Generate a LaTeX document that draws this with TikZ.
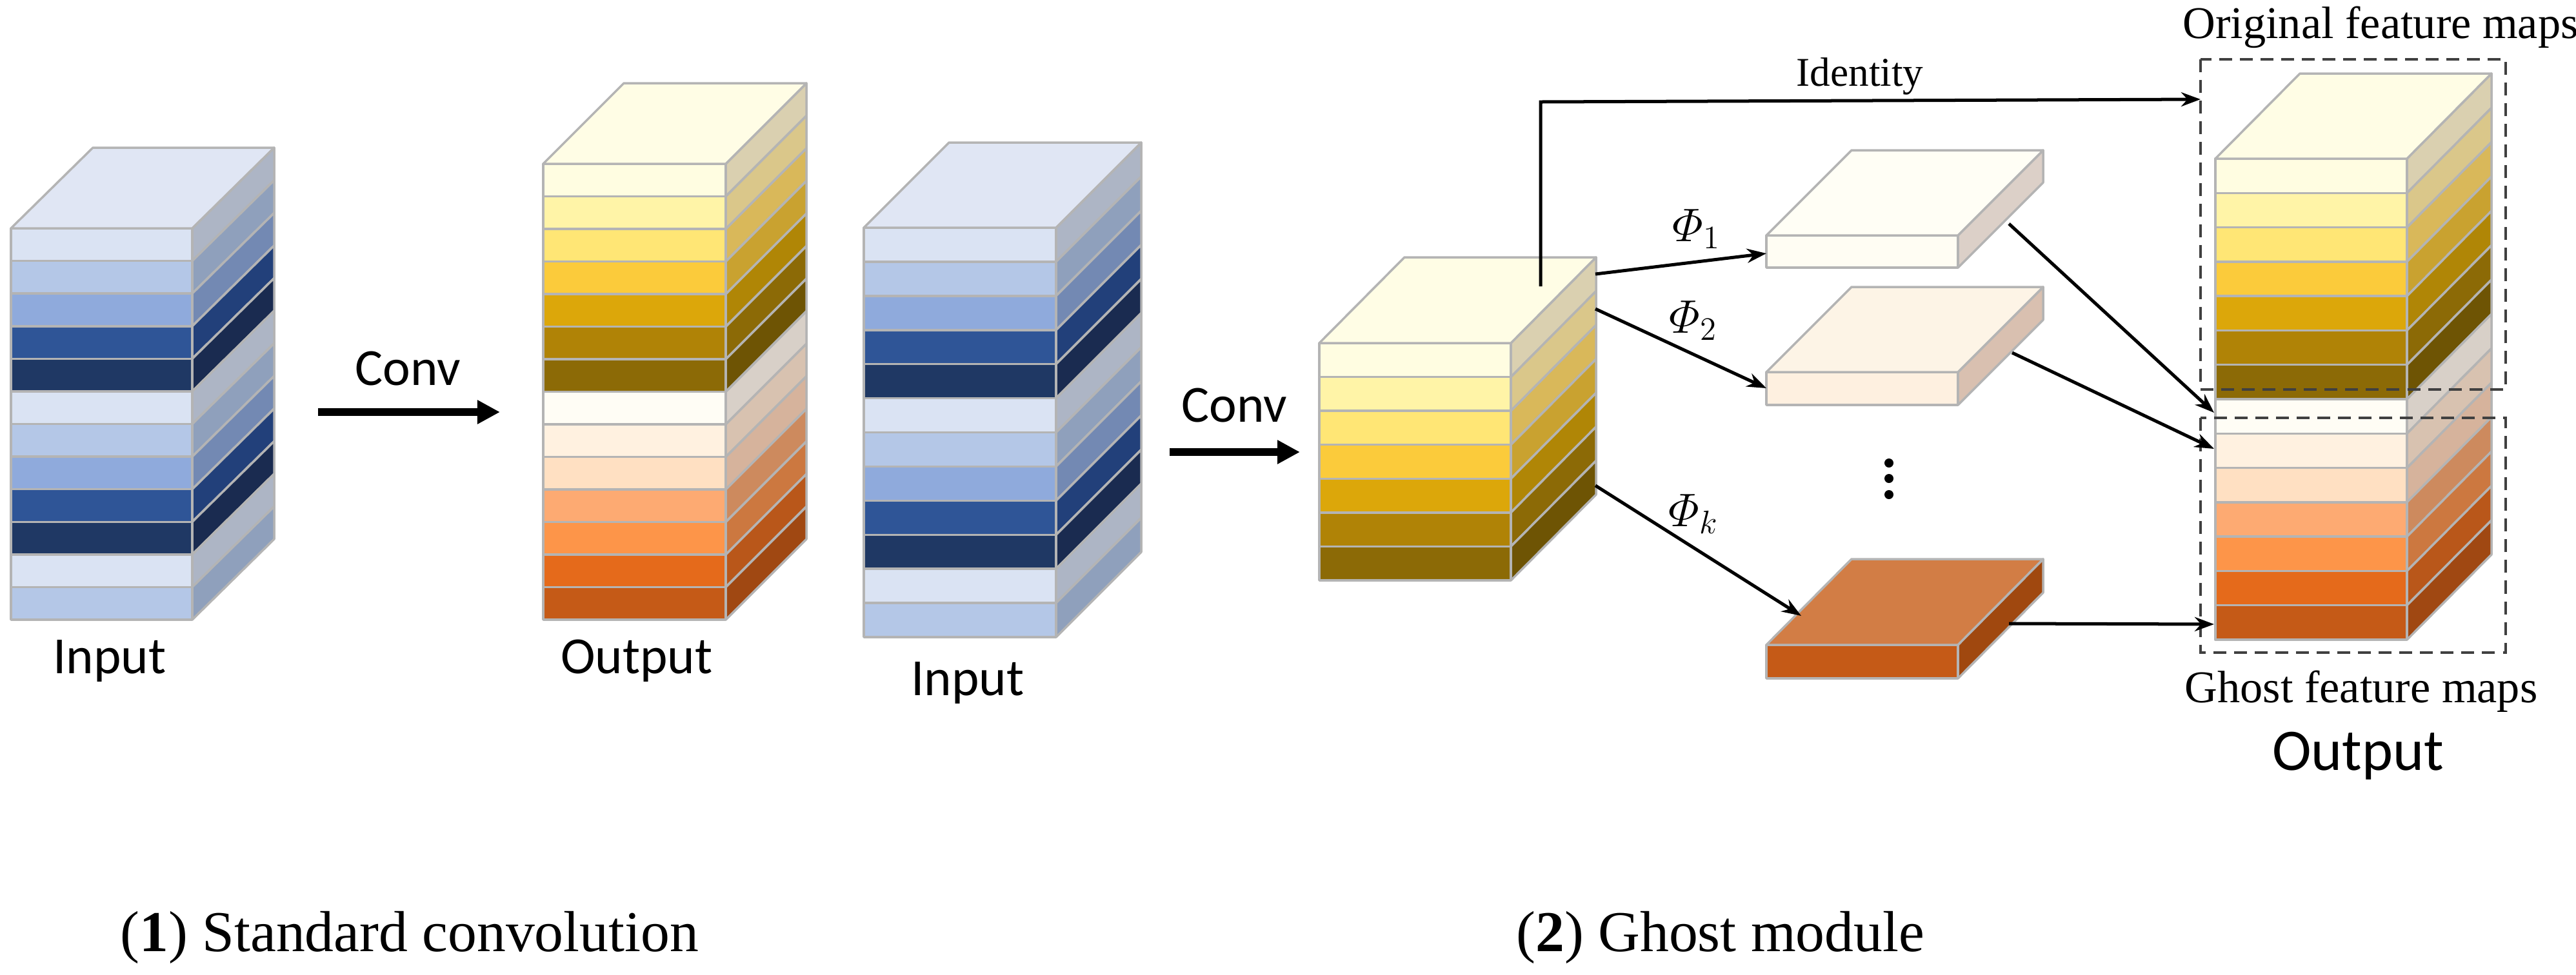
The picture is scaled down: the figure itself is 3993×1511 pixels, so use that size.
\documentclass[tikz,border=0pt]{standalone}
\usepackage{amsmath}
\usepackage[no-math]{fontspec}
\setmainfont{Liberation Serif}
\newfontfamily\sansf{Carlito}
\usetikzlibrary{arrows.meta}
\definecolor{b1}{HTML}{DAE3F3}\definecolor{b1s}{HTML}{ADB5C5}
\definecolor{b2}{HTML}{B4C7E7}\definecolor{b2s}{HTML}{8FA0BC}
\definecolor{b3}{HTML}{8FAADC}\definecolor{b3s}{HTML}{7389B3}
\definecolor{b4}{HTML}{2F5597}\definecolor{b4s}{HTML}{22407A}
\definecolor{b5}{HTML}{1F3864}\definecolor{b5s}{HTML}{1A2B50}
\definecolor{bt}{HTML}{E0E6F4}
\definecolor{y1}{HTML}{FFFDE1}\definecolor{y1s}{HTML}{DAD0B0}
\definecolor{y2}{HTML}{FFF4A7}\definecolor{y2s}{HTML}{DAC78A}
\definecolor{y3}{HTML}{FFE675}\definecolor{y3s}{HTML}{D9B85A}
\definecolor{y4}{HTML}{FBCB3B}\definecolor{y4s}{HTML}{C9A230}
\definecolor{y5}{HTML}{DCA70A}\definecolor{y5s}{HTML}{B08606}
\definecolor{y6}{HTML}{B08306}\definecolor{y6s}{HTML}{8C6A06}
\definecolor{y7}{HTML}{8C6A06}\definecolor{y7s}{HTML}{6E5404}
\definecolor{yt}{HTML}{FFFDE5}
\definecolor{o1}{HTML}{FFFDF5}\definecolor{o1s}{HTML}{D8D0C8}
\definecolor{o2}{HTML}{FFF1E0}\definecolor{o2s}{HTML}{D8C2B0}
\definecolor{o3}{HTML}{FFE0C2}\definecolor{o3s}{HTML}{D6B39C}
\definecolor{o4}{HTML}{FDAA72}\definecolor{o4s}{HTML}{CD8A5E}
\definecolor{o5}{HTML}{FD9549}\definecolor{o5s}{HTML}{CC7840}
\definecolor{o6}{HTML}{E56A1B}\definecolor{o6s}{HTML}{B9571A}
\definecolor{o7}{HTML}{C55A17}\definecolor{o7s}{HTML}{A04812}
\definecolor{s1t}{HTML}{FFFEF5}\definecolor{s1f}{HTML}{FFFDF3}\definecolor{s1s}{HTML}{DCD0C8}
\definecolor{s2t}{HTML}{FDF4E6}\definecolor{s2f}{HTML}{FEF0E0}\definecolor{s2s}{HTML}{D9C0B0}
\definecolor{s3t}{HTML}{D27D45}\definecolor{s3f}{HTML}{C55A17}\definecolor{s3s}{HTML}{A0480F}
\definecolor{edge}{HTML}{B4B4B4}
\tikzset{
  face/.style={draw=edge,line width=0.035cm,line join=round},
  conv/.style={line width=0.12cm,-{Triangle[length=0.35cm,width=0.35cm]}},
  link/.style={line width=0.05cm,-{Stealth[length=0.3cm,width=0.22cm]}},
  sanslab/.style={font=\sansf\fontsize{23}{27}\selectfont},
  biglab/.style={font=\sansf\fontsize{26}{30}\selectfont},
  seriflab/.style={font=\fontsize{18}{22}\selectfont},
  featlab/.style={font=\fontsize{20}{24}\selectfont},
  philab/.style={font=\fontsize{22}{26}\selectfont},
  caption/.style={font=\fontsize{25.5}{30}\selectfont,anchor=west},
  box/.style={draw=black!75,dashed,dash pattern=on 0.2cm off 0.12cm,line width=0.04cm}
}
% x0,x1,ytop,ybot,dx,dy,n,list,topcolor
\newcommand\mystack[9]{%
  \pgfmathsetmacro\hh{(#4-#3)/#7}%
  \foreach \f/\s [count=\i from 0] in {#8}{%
    \pgfmathsetmacro\ya{#3+\i*\hh}\pgfmathsetmacro\yb{\ya+\hh}%
    \draw[face,fill=\f] (#1,\ya) rectangle (#2,\yb);
    \draw[face,fill=\s] (#2,\ya) -- ++(#5,#6) -- (#2+#5,\yb+#6) -- (#2,\yb) -- cycle;
  }%
  \draw[face,fill=#9] (#1,#3) -- ++(#5,#6) -- (#2+#5,#3+#6) -- (#2,#3) -- cycle;
}
\newcommand\myslab[9]{% x0,x1,ytop,ybot,dx,dy,top,front,side
  \draw[face,fill=#8] (#1,#3) rectangle (#2,#4);
  \draw[face,fill=#9] (#2,#3) -- ++(#5,#6) -- (#2+#5,#4+#6) -- (#2,#4) -- cycle;
  \draw[face,fill=#7] (#1,#3) -- ++(#5,#6) -- (#2+#5,#3+#6) -- (#2,#3) -- cycle;
}
\begin{document}
\begin{tikzpicture}[x=0.01cm,y=-0.01cm]
\useasboundingbox (0,0) rectangle (3993,1511);
% stack 1
\mystack{17}{298}{354}{961}{127}{-125}{12}{b1/b1s,b2/b2s,b3/b3s,b4/b4s,b5/b5s,b1/b1s,b2/b2s,b3/b3s,b4/b4s,b5/b5s,b1/b1s,b2/b2s}{bt}
\node[sanslab] (in1) at (170,1025) {Input};
% stack 2
\mystack{842}{1125}{254}{961}{125}{-125}{14}{y1/y1s,y2/y2s,y3/y3s,y4/y4s,y5/y5s,y6/y6s,y7/y7s,o1/o1s,o2/o2s,o3/o3s,o4/o4s,o5/o5s,o6/o6s,o7/o7s}{yt}
\node[sanslab] (out1) at (987,1025) {Output};
\coordinate (c1a) at (493,639); \coordinate (c1b) at (775,639);
\draw[conv] (c1a) -- (c1b);
\node[sanslab] (conv1) at (632,572) {Conv};
% stack 3
\mystack{1339}{1637}{353}{988}{132}{-132}{12}{b1/b1s,b2/b2s,b3/b3s,b4/b4s,b5/b5s,b1/b1s,b2/b2s,b3/b3s,b4/b4s,b5/b5s,b1/b1s,b2/b2s}{bt}
\node[sanslab] (in2) at (1500,1059) {Input};
\coordinate (c2a) at (1813,701); \coordinate (c2b) at (2015,701);
\draw[conv] (c2a) -- (c2b);
\node[sanslab] (conv2) at (1913,629) {Conv};
% stack 4
\mystack{2045}{2342}{532}{900}{132}{-133}{7}{y1/y1s,y2/y2s,y3/y3s,y4/y4s,y5/y5s,y6/y6s,y7/y7s}{yt}
% slabs
\myslab{2738}{3035}{365}{415}{132}{-132}{s1t}{s1f}{s1s}
\myslab{2738}{3035}{577}{628}{132}{-132}{s2t}{s2f}{s2s}
\myslab{2738}{3035}{1000}{1052}{132}{-133}{s3t}{s3f}{s3s}
\foreach \yy in {718,742,767} \fill (2928,\yy) circle (0.07cm);
% output stack
\mystack{3434}{3731}{246}{992}{131}{-132}{14}{y1/y1s,y2/y2s,y3/y3s,y4/y4s,y5/y5s,y6/y6s,y7/y7s,o1/o1s,o2/o2s,o3/o3s,o4/o4s,o5/o5s,o6/o6s,o7/o7s}{yt}
\draw[box] (3411,92) rectangle (3884,604);
\draw[box] (3411,648) rectangle (3884,1012);
\node[featlab] (orig) at (3690,42) {Original feature maps};
\node[featlab] (ghost) at (3660,1072) {Ghost feature maps};
\node[biglab] (out2) at (3655,1172) {Output};
% identity
\coordinate (idA) at (2388,444); \coordinate (idB) at (2388,158); \coordinate (idC) at (3411,154);
\draw[link] (idA) -- (idB) -- (idC);
\node[seriflab] (ident) at (2883,118) {Identity};
% phi arrows
\coordinate (p1a) at (2473,425); \coordinate (p1b) at (2738,393);
\coordinate (p2a) at (2473,479); \coordinate (p2b) at (2738,602);
\coordinate (pka) at (2473,753); \coordinate (pkb) at (2792,955);
\draw[link] (p1a) -- (p1b);
\draw[link] (p2a) -- (p2b);
\draw[link] (pka) -- (pkb);
\node[philab] (phi1) at (2630,355) {$\varPhi_1$};
\node[philab] (phi2) at (2625,497) {$\varPhi_2$};
\node[philab] (phik) at (2625,797) {$\varPhi_k$};
% slab to output
\coordinate (q1a) at (3114,347); \coordinate (q1b) at (3432,640);
\coordinate (q2a) at (3119,547); \coordinate (q2b) at (3432,696);
\coordinate (q3a) at (3114,967); \coordinate (q3b) at (3432,968);
\draw[link] (q1a) -- (q1b);
\draw[link] (q2a) -- (q2b);
\draw[link] (q3a) -- (q3b);
% captions
\node[caption] (cap1) at (174,1454) {(\textbf{1}) Standard convolution};
\node[caption] (cap2) at (2338,1454) {(\textbf{2}) Ghost module};
\end{tikzpicture}
\end{document}
